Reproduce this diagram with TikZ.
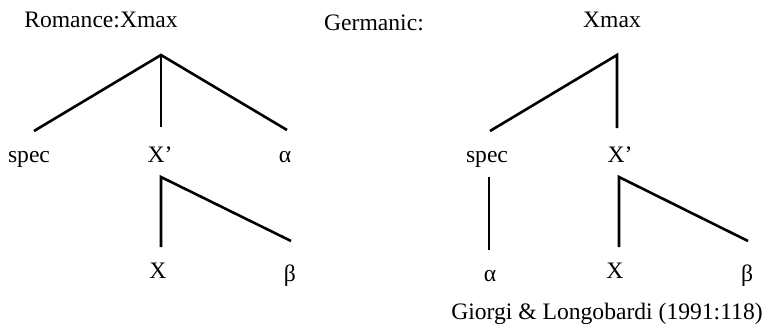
\documentclass[tikz,border=0pt]{standalone}
\usepackage{fontspec}
\setmainfont{Liberation Serif}

\tikzset{
    wort/.style={inner sep=0pt, anchor=base, font=\fontsize{23.6}{28}\selectfont},
    ast/.style={line width=2.6pt, line join=miter}
}

\begin{document}
\begin{tikzpicture}[x=1pt,y=-1pt]
    \useasboundingbox (0,0) rectangle (774,329);
    % Romance
    \path node[wort] (RomTitel) at (101,28) {Romance:Xmax}
        node[wort] (RomSpec) at (29,162) {spec}
        node[wort] (RomXbar) at (160,162) {X’}
        node[wort] (RomAlpha) at (285,162) {α}
        node[wort] (RomX) at (158,278) {X}
        node[wort] (RomBeta) at (290,281) {β};
    \coordinate (RomTop) at (161,55);
    \coordinate (RomL) at (34,131);
    \coordinate (RomM) at (161,127);
    \coordinate (RomR) at (287,130);
    \coordinate (RomXTop) at (161,177);
    \coordinate (RomXL) at (161,247);
    \coordinate (RomXR) at (291,241);
    \draw[ast] (RomL) -- (RomTop) -- (RomR);
    \draw[ast] (RomTop) -- (RomM);
    \draw[ast] (RomXL) -- (RomXTop) -- (RomXR);
    % Germanic
    \path node[wort] (GerTitel) at (374,31) {Germanic:}
        node[wort] (GerXmax) at (612,28) {Xmax}
        node[wort] (GerSpec) at (487,162) {spec}
        node[wort] (GerXbar) at (620,162) {X’}
        node[wort] (GerAlpha) at (490,281) {α}
        node[wort] (GerX) at (615,278) {X}
        node[wort] (GerBeta) at (747,281) {β}
        node[wort] (Quelle) at (607,319) {Giorgi \& Longobardi (1991:118)};
    \coordinate (GerTop) at (617,55);
    \coordinate (GerL) at (490,131);
    \coordinate (GerM) at (617,128);
    \coordinate (GerSpecTop) at (489,177);
    \coordinate (GerSpecBot) at (489,250);
    \coordinate (GerXTop) at (619,177);
    \coordinate (GerXL) at (619,247);
    \coordinate (GerXR) at (748,241);
    \draw[ast] (GerL) -- (GerTop) -- (GerM);
    \draw[ast] (GerSpecTop) -- (GerSpecBot);
    \draw[ast] (GerXL) -- (GerXTop) -- (GerXR);
\end{tikzpicture}
\end{document}
